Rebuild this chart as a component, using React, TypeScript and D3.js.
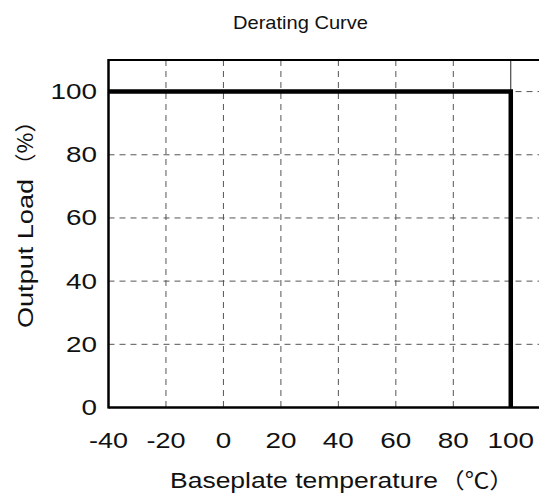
import React, { useEffect, useRef } from 'react';
import * as d3 from 'd3';

const xTicks = [-40, -20, 0, 20, 40, 60, 80, 100];
const yTicks = [0, 20, 40, 60, 80, 100];
const curveTemp = [-40, 100, 100];
const curveLoad = [100, 100, 0];

const W = 539;
const H = 497;

// rough advance widths of the wide tick font
const tickWidth = (s: string) =>
  s.split('').reduce((acc, c) => acc + (c === '-' ? 8 : 15.5), 0);

export default function App() {
  const ref = useRef<SVGSVGElement>(null);

  useEffect(() => {
    document.body.style.margin = '0';
    if (!ref.current) return;
    const svg = d3.select(ref.current);
    svg.selectAll('*').remove();

    const left = 108.5, right = 539.5, top = 60, bottom = 407.5;
    const x = d3.scaleLinear().domain([-40, 110]).range([left, right]);
    const y = d3.scaleLinear().domain([0, 110]).range([bottom, top]);

    const latin = 'Liberation Sans, Arial, sans-serif';
    const cjk = 'Noto Sans CJK JP, sans-serif';

    // grid
    const grid = svg.append('g').attr('stroke', '#555').attr('stroke-width', 1);
    grid.selectAll('.vg')
      .data(xTicks.filter(t => t > -40 && t < 100))
      .enter().append('line')
      .attr('x1', d => x(d)).attr('x2', d => x(d))
      .attr('y1', top).attr('y2', bottom)
      .attr('stroke-dasharray', '6,5');
    grid.selectAll('.hg')
      .data(yTicks.filter(t => t > 0))
      .enter().append('line')
      .attr('x1', left).attr('x2', right)
      .attr('y1', d => y(d)).attr('y2', d => y(d))
      .attr('stroke-dasharray', '6,5');
    grid.append('line')
      .attr('x1', x(100)).attr('x2', x(100))
      .attr('y1', top).attr('y2', y(100))
      .attr('stroke', '#222');

    // frame
    svg.append('line').attr('x1', left).attr('x2', right).attr('y1', top).attr('y2', top)
      .attr('stroke', '#000').attr('stroke-width', 2);
    svg.append('line').attr('x1', left).attr('x2', left).attr('y1', top - 1).attr('y2', bottom + 1)
      .attr('stroke', '#000').attr('stroke-width', 2.5);
    svg.append('line').attr('x1', left).attr('x2', right).attr('y1', bottom).attr('y2', bottom)
      .attr('stroke', '#000').attr('stroke-width', 2.5);

    // curve
    const line = d3.line<number>()
      .x((d, i) => x(curveTemp[i]))
      .y(d => y(d));
    svg.append('path')
      .attr('d', line(curveLoad))
      .attr('fill', 'none')
      .attr('stroke', '#000')
      .attr('stroke-width', 4.5)
      .attr('stroke-linejoin', 'miter');

    const txt = svg.append('g').attr('fill', '#111');

    // tick labels
    txt.selectAll('.xt')
      .data(xTicks)
      .enter().append('text')
      .attr('x', d => x(d))
      .attr('y', 448)
      .attr('text-anchor', 'middle')
      .attr('textLength', d => tickWidth(String(d)))
      .attr('lengthAdjust', 'spacingAndGlyphs')
      .style('font-family', latin)
      .style('font-size', '21.5px')
      .text(d => d);
    txt.selectAll('.yt')
      .data(yTicks)
      .enter().append('text')
      .attr('x', 97)
      .attr('y', d => y(d) + 7.5)
      .attr('text-anchor', 'end')
      .attr('textLength', d => tickWidth(String(d)))
      .attr('lengthAdjust', 'spacingAndGlyphs')
      .style('font-family', latin)
      .style('font-size', '21.5px')
      .text(d => d);

    // title
    txt.append('text')
      .attr('x', 233).attr('y', 28.5)
      .attr('textLength', 135)
      .attr('lengthAdjust', 'spacingAndGlyphs')
      .style('font-family', latin)
      .style('font-size', '18.5px')
      .text('Derating Curve');

    // x label
    txt.append('text')
      .attr('x', 170).attr('y', 488)
      .attr('textLength', 268)
      .attr('lengthAdjust', 'spacingAndGlyphs')
      .style('font-family', latin)
      .style('font-size', '21.5px')
      .text('Baseplate temperature');
    txt.append('text')
      .attr('x', 440).attr('y', 488)
      .attr('textLength', 74)
      .attr('lengthAdjust', 'spacingAndGlyphs')
      .style('font-family', cjk)
      .style('font-size', '21.5px')
      .text('（℃）');

    // y label
    const yl = txt.append('g').attr('transform', 'translate(33, 328) rotate(-90)');
    yl.append('text')
      .attr('x', 0).attr('y', 0)
      .attr('textLength', 149)
      .attr('lengthAdjust', 'spacingAndGlyphs')
      .style('font-family', latin)
      .style('font-size', '21.5px')
      .text('Output Load');
    yl.append('text')
      .attr('x', 152).attr('y', 0)
      .attr('textLength', 66)
      .attr('lengthAdjust', 'spacingAndGlyphs')
      .style('font-family', cjk)
      .style('font-size', '21.5px')
      .text('（%）');
  }, []);

  return <svg ref={ref} width={W} height={H} style={{ display: 'block', background: '#fff' }} />;
}
